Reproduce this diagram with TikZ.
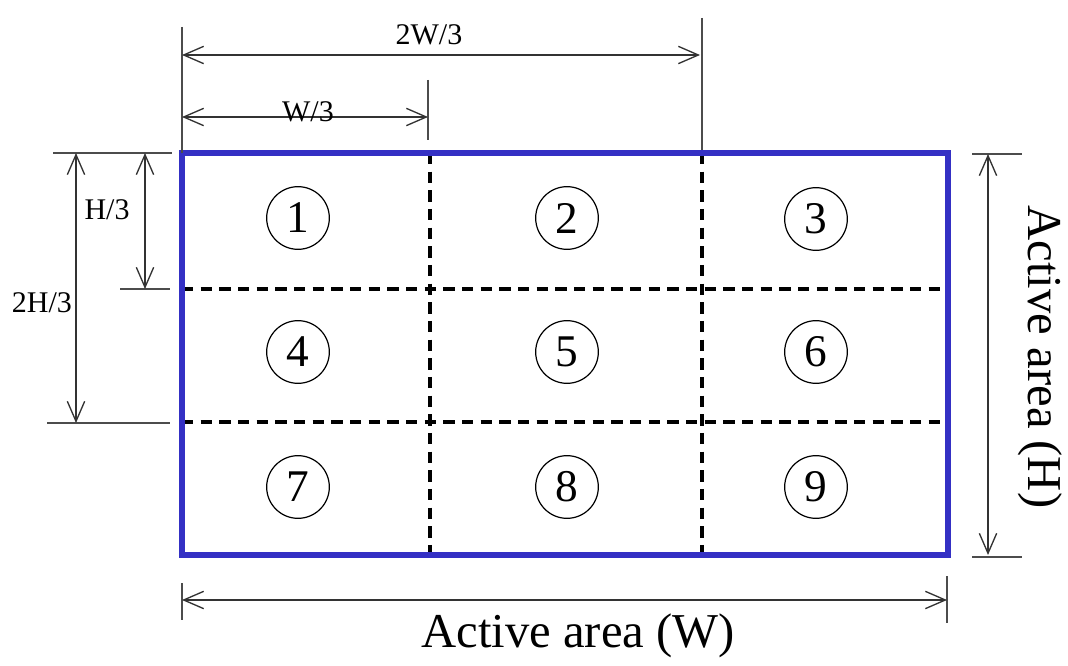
\documentclass[tikz,border=0pt]{standalone}
\usepackage{fontspec}
\setmainfont{Liberation Serif}
\usetikzlibrary{arrows.meta}
\definecolor{areablue}{RGB}{52,48,196}
\tikzset{
	dimarrow/.style={draw=black!80, line width=1pt, {Straight Barb[length=15pt,width=13pt]}-{Straight Barb[length=15pt,width=13pt]}},
	extline/.style={draw=black!70, line width=1pt},
	gridline/.style={line width=2.6pt, dash pattern=on 8.5pt off 5.5pt},
	zone/.style={circle, draw, line width=0.9pt, minimum size=47pt, inner sep=0pt, font=\fontsize{34}{34}\selectfont},
	dimlabel/.style={font=\fontsize{22.5}{22.5}\selectfont, inner sep=0pt},
	arealabel/.style={font=\fontsize{36.5}{36.5}\selectfont, inner sep=0pt},
}
\begin{document}
\begin{tikzpicture}[x=0.75pt,y=-0.75pt]
		\useasboundingbox (0,0) rectangle (1068,666);
		% panel corners and grid
		\coordinate (tl) at (182,153);
		\coordinate (tr) at (948,153);
		\coordinate (bl) at (182,555);
		\coordinate (br) at (948,555);
		\draw [gridline] (430,153) -- (430,555);
		\draw [gridline] (702,153) -- (702,555);
		\draw [gridline] (182,289) -- (948,289);
		\draw [gridline] (182,422) -- (948,422);
		\draw [areablue, line width=4pt] (tl) -- (tr) -- (br) -- (bl) -- cycle;
		% zones
		\foreach \n/\x/\y in {1/298/218, 2/567/218, 3/816/219, 4/298/352, 5/567/352, 6/816/352, 7/298/487, 8/567/487, 9/816/487}
			\node [zone] (z\n) at (\x,\y) {\n};
		% width marks
		\draw [extline] (182,27) -- (tl);
		\draw [extline] (702,18) -- (702,150);
		\draw [extline] (428,80) -- (428,140);
		\draw [dimarrow] (182,55) -- (700,55);
		\node [dimlabel] (w2) at (429,35) {2W/3};
		\draw [dimarrow] (182,117) -- (428,117);
		\node [dimlabel, anchor=base] (w1) at (308,122) {W/3};
		% height marks
		\draw [extline] (53,153) -- (172,153);
		\draw [extline] (120,289) -- (170,289);
		\draw [extline] (47,423) -- (170,423);
		\draw [dimarrow] (145,153) -- (145,289);
		\node [dimlabel] (h1) at (107,210) {H/3};
		\draw [dimarrow] (76,153) -- (76,423);
		\node [dimlabel] (h2) at (42,303) {2H/3};
		% active area
		\draw [extline] (972,154) -- (1022,154);
		\draw [extline] (972,557) -- (1022,557);
		\draw [dimarrow] (988,154) -- (988,555);
		\node [arealabel, rotate=-90] (ah) at (1040,357) {Active area (H)};
		\draw [extline] (182,583) -- (182,620);
		\draw [extline] (947,576) -- (947,623);
		\draw [dimarrow] (182,600) -- (947,600);
		\node [arealabel] (aw) at (578,636) {Active area (W)};
	\end{tikzpicture}
\end{document}
